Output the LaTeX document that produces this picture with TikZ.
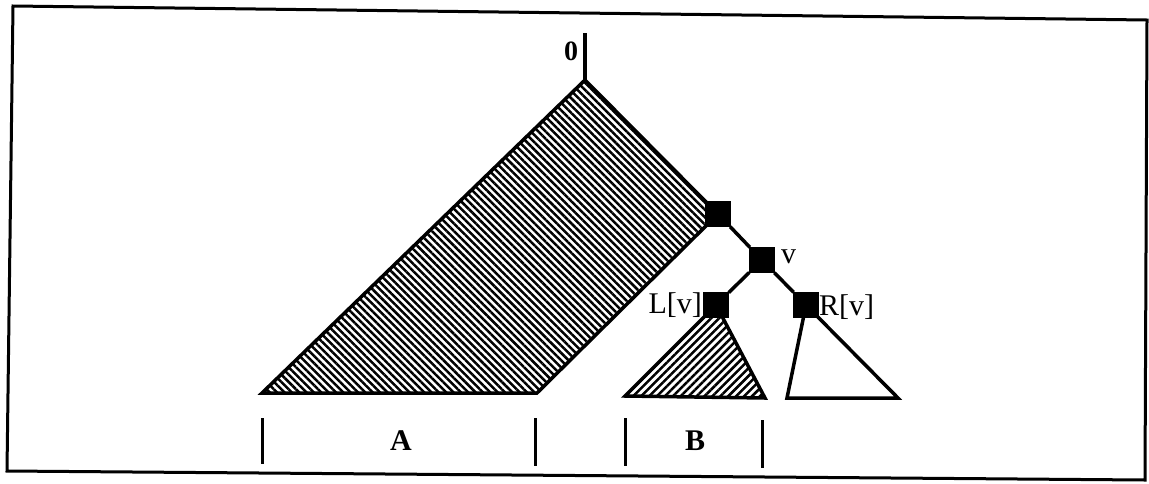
\documentclass[tikz,border=0pt]{standalone}
\usepackage{fontspec}
\setmainfont{Liberation Serif}
\usetikzlibrary{patterns.meta}
\begin{document}
\begin{tikzpicture}[x=1pt,y=-1pt,
  sq/.style={rectangle,fill=black,draw=black,minimum size=25pt,inner sep=0pt},
  tl/.style={line width=3.5pt},
  lab/.style={font=\fontsize{30}{30}\selectfont,inner sep=0pt},
  hatchA/.style={pattern={Lines[angle=-45,distance=5.2pt,line width=2.5pt]}},
  hatchB/.style={pattern={Lines[angle=45,distance=5.6pt,line width=2.5pt]}},
  bar/.style={line width=3pt}]
\useasboundingbox (0,0) rectangle (1149,483);
% frame
\draw[line width=3pt] (13,6) -- (1147,20) -- (1145,480) -- (7,471) -- cycle;
% node positions
\coordinate (top) at (585,80);
\coordinate (rootend) at (585,33);
\coordinate (n1c) at (718,214);
% big region A
\draw[tl,hatchA,line join=miter] (top) -- (n1c) -- (537,393) -- (262,393) -- cycle;
\draw[tl] (rootend) -- (top);
\node[lab,font=\fontsize{28}{28}\selectfont\bfseries] (zero) at (571,51) {0};
% subtrees
\coordinate (n3c) at (716,305);
\coordinate (n4c) at (806,305);
\draw[tl,hatchB] (n3c) -- (765,398) -- (625,396) -- cycle;
\draw[tl,fill=white] (n4c) -- (898,398) -- (787,398) -- cycle;
% tree nodes
\node[sq] (n1) at (n1c) {};
\node[sq] (n2) at (762,260) {};
\node[sq] (n3) at (n3c) {};
\node[sq] (n4) at (n4c) {};
\draw[tl] (n1) -- (n2);
\draw[tl] (n2) -- (n3);
\draw[tl] (n2) -- (n4);
\node[lab,anchor=west] (lv) at (781,257) {v};
\node[lab,anchor=east] (llv) at (702,305) {L[v]};
\node[lab,anchor=west] (lrv) at (819,307) {R[v]};
% intervals
\draw[bar] (262,418) -- (262,464);
\draw[bar] (535,418) -- (535,466);
\draw[bar] (625,418) -- (625,466);
\draw[bar] (762,420) -- (762,468);
\node[lab,font=\fontsize{30}{30}\selectfont\bfseries] (A) at (401,441) {A};
\node[lab,font=\fontsize{30}{30}\selectfont\bfseries] (B) at (695,441) {B};
\end{tikzpicture}
\end{document}
